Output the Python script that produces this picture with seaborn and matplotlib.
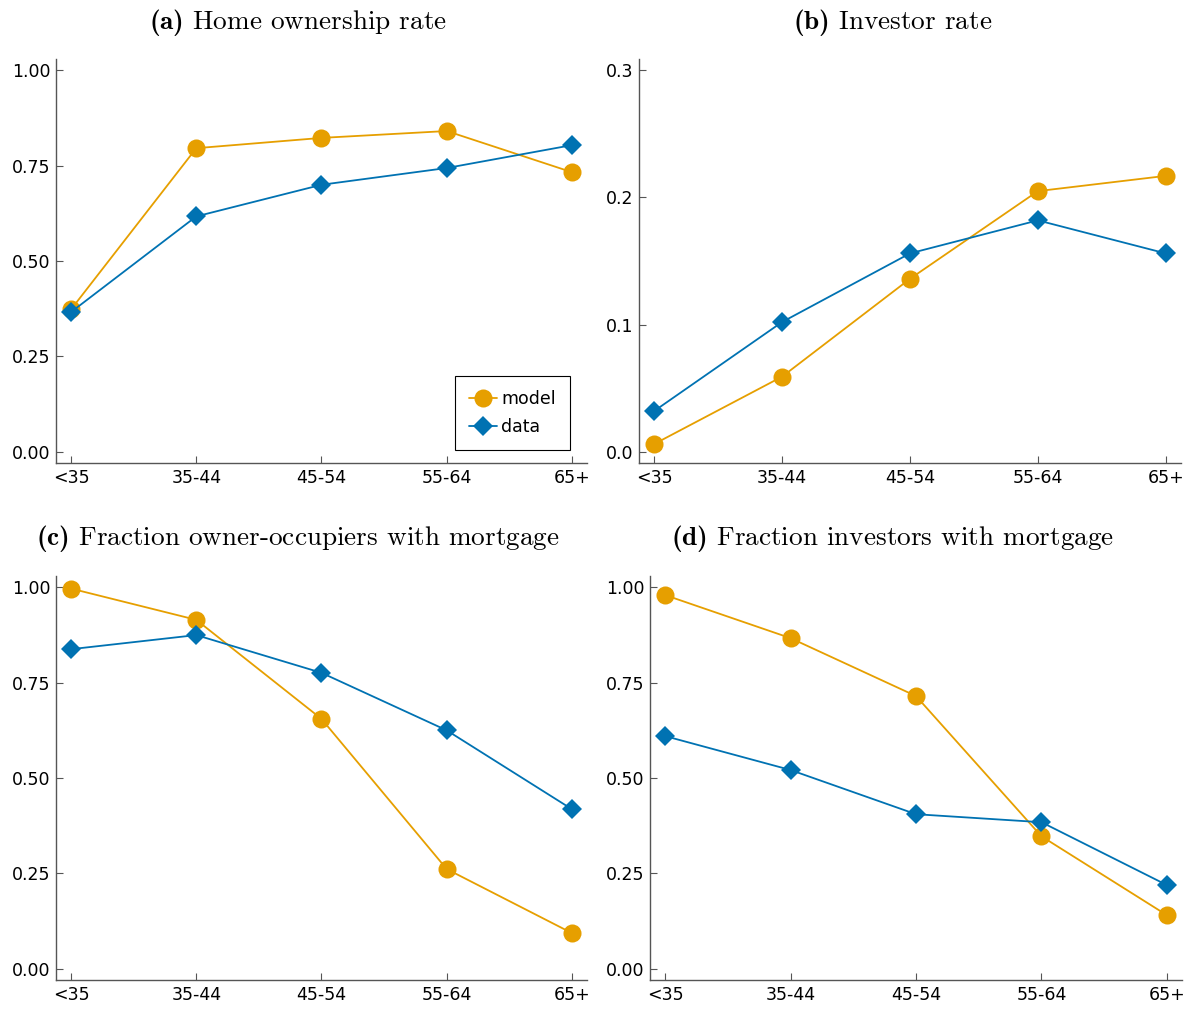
import matplotlib
matplotlib.use("Agg")
import matplotlib.pyplot as plt
import seaborn as sns
import pandas as pd

# ---- data ----
age_groups = ["<35", "35-44", "45-54", "55-64", "65+"]

own_model = [0.373, 0.796, 0.823, 0.841, 0.733]
own_data = [0.366, 0.617, 0.700, 0.744, 0.804]

inv_model = [0.006, 0.059, 0.136, 0.205, 0.217]
inv_data = [0.032, 0.102, 0.156, 0.182, 0.156]

oo_mort_model = [0.997, 0.915, 0.655, 0.261, 0.093]
oo_mort_data = [0.838, 0.875, 0.776, 0.625, 0.418]

inv_mort_model = [0.980, 0.867, 0.715, 0.347, 0.140]
inv_mort_data = [0.610, 0.521, 0.405, 0.384, 0.219]

titles = [
    ("(a)", "Home ownership rate"),
    ("(b)", "Investor rate"),
    ("(c)", "Fraction owner-occupiers with mortgage"),
    ("(d)", "Fraction investors with mortgage"),
]
yticks_list = [
    [0.0, 0.25, 0.5, 0.75, 1.0],
    [0.0, 0.1, 0.2, 0.3],
    [0.0, 0.25, 0.5, 0.75, 1.0],
    [0.0, 0.25, 0.5, 0.75, 1.0],
]
ytick_labels = [
    ["0.00", "0.25", "0.50", "0.75", "1.00"],
    ["0.0", "0.1", "0.2", "0.3"],
    ["0.00", "0.25", "0.50", "0.75", "1.00"],
    ["0.00", "0.25", "0.50", "0.75", "1.00"],
]
ylims = [(-0.03, 1.03), (-0.009, 0.309), (-0.03, 1.03), (-0.03, 1.03)]
series = [
    (own_model, own_data),
    (inv_model, inv_data),
    (oo_mort_model, oo_mort_data),
    (inv_mort_model, inv_mort_data),
]

# ---- style ----
sns.set_theme(style="ticks")
plt.rcParams["font.family"] = ["DejaVu Sans"]
plt.rcParams["text.color"] = "black"
plt.rcParams["mathtext.fontset"] = "custom"
plt.rcParams["mathtext.rm"] = "cmr10"
plt.rcParams["mathtext.bf"] = "cmb10"

W, H = 1191, 1011
fig = plt.figure(figsize=(W / 100, H / 100), dpi=100)

# axes boxes in pixels: left, right, top, bottom
boxes = [
    (56, 587, 59, 463),
    (639, 1181, 59, 463),
    (56, 587, 576, 980),
    (650, 1182, 576, 980),
]
title_pos = [(298, 22), (893, 22), (298, 539), (893, 539)]

palette = {"model": "#E69F00", "data": "#0072B2"}
markers = {"model": "o", "data": "D"}
spine_color = "#555555"

for i, ((l, r, t, b), (m_vals, d_vals)) in enumerate(zip(boxes, series)):
    ax = fig.add_axes([l / W, (H - b) / H, (r - l) / W, (b - t) / H])
    df = pd.DataFrame({
        "age": age_groups * 2,
        "value": list(m_vals) + list(d_vals),
        "series": ["model"] * len(age_groups) + ["data"] * len(age_groups),
    })
    sns.lineplot(
        data=df, x="age", y="value", hue="series", style="series",
        palette=palette, markers=markers, dashes=False, ax=ax,
        linewidth=1.3, markersize=13, markeredgewidth=0,
        legend=(i == 0), sort=False,
    )
    for line in ax.lines:
        if line.get_marker() == "D":
            line.set_markersize(10.5)
    ax.set_xlim(-0.12, 4.12)
    ax.set_ylim(*ylims[i])
    ax.set_yticks(yticks_list[i])
    ax.set_yticklabels(ytick_labels[i])
    ax.set_xlabel("")
    ax.set_ylabel("")
    for s in ["top", "right"]:
        ax.spines[s].set_visible(False)
    for s in ["left", "bottom"]:
        ax.spines[s].set_color(spine_color)
        ax.spines[s].set_linewidth(1.0)
    ax.tick_params(direction="in", length=5, width=0.8, color=spine_color,
                   labelsize=12.5, labelcolor="black", pad=4)
    ax.grid(False)
    if i == 0:
        leg = ax.legend(
            loc="lower right", bbox_to_anchor=((570 - l) / (r - l), (b - 450) / (b - t)),
            borderaxespad=0, fancybox=False, framealpha=1, edgecolor="black",
            fontsize=12.5, handlelength=1.6, handletextpad=0.25,
            borderpad=0.8, labelspacing=0.6, title=None,
        )
        leg.get_frame().set_linewidth(0.8)
        for h in leg.legend_handles:
            if h.get_marker() == "D":
                h.set_markersize(10.5)
        for txt in leg.get_texts():
            txt.set_color("black")

    tag, txt = titles[i]
    tx, ty = title_pos[i]
    fig.text(tx / W, 1 - ty / H,
             r"$\mathbf{" + tag + r"}$ " + txt,
             ha="center", va="center", fontsize=19.6, family="cmr10")

fig.savefig("out.png", dpi=100)
